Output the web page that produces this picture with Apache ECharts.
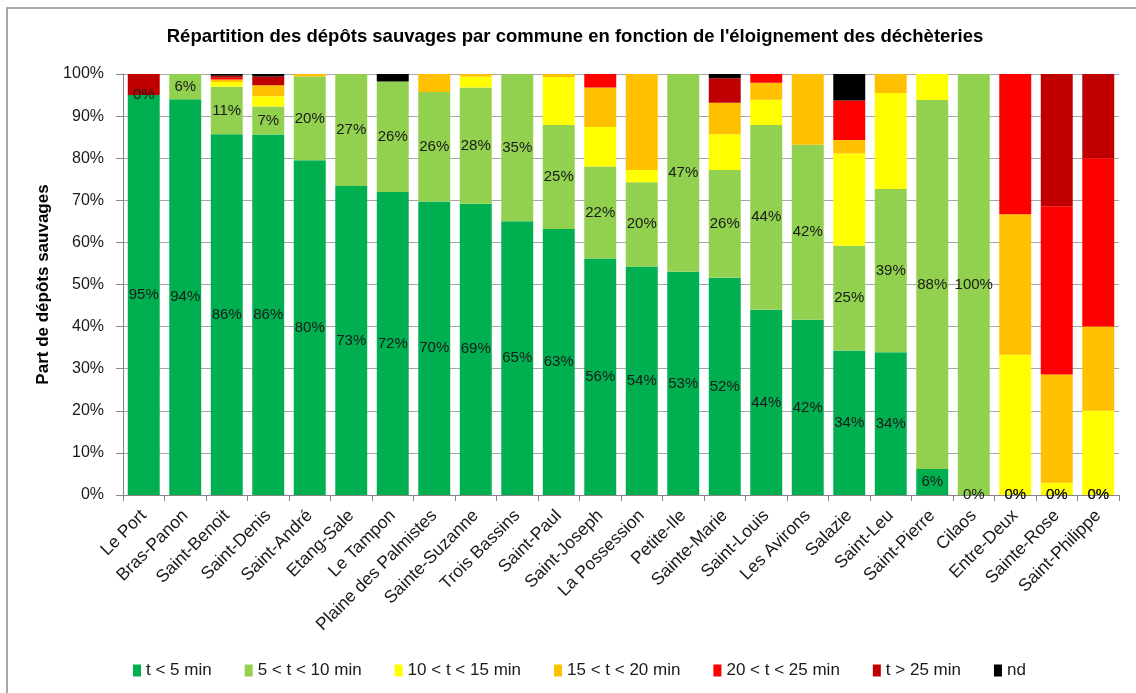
<!DOCTYPE html>
<html>
<head>
<meta charset="utf-8">
<script src="https://cdn.jsdelivr.net/npm/echarts@6/dist/echarts.min.js"></script>
<style>
  html, body { margin: 0; padding: 0; background: #ffffff; }
  #chart { width: 1136px; height: 693px; }
</style>
</head>
<body>
<div id="chart"></div>
<script>
// Communes, ordered by share of dumps within 5 minutes of a recycling centre
const communes = ['Le Port', 'Bras-Panon', 'Saint-Benoit', 'Saint-Denis', 'Saint-André', 'Etang-Sale',
  'Le Tampon', 'Plaine des Palmistes', 'Sainte-Suzanne', 'Trois Bassins', 'Saint-Paul', 'Saint-Joseph',
  'La Possession', 'Petite-Ile', 'Sainte-Marie', 'Saint-Louis', 'Les Avirons', 'Salazie', 'Saint-Leu',
  'Saint-Pierre', 'Cilaos', 'Entre-Deux', 'Sainte-Rose', 'Saint-Philippe'];

// Share (%) of illegal dumps per travel-time class
const tLess5   = [95, 94, 85.7, 85.6, 79.5, 73.4, 72, 69.7, 69.2, 65, 63.2, 56.2, 54.3, 53, 51.6, 44.0, 41.6, 34.3, 33.9, 6.2, 0, 0, 0, 0];
const t5to10   = [0, 6, 11.3, 6.7, 19.9, 26.6, 26.2, 26.0, 27.6, 35, 24.7, 21.8, 20.0, 47, 25.6, 43.9, 41.6, 24.9, 38.8, 87.6, 100, 0, 0, 0];
const t10to15  = [0, 0, 1.1, 2.4, 0, 0, 0, 0, 2.6, 0, 11.4, 9.4, 2.9, 0, 8.5, 6.0, 0, 21.9, 22.8, 6.2, 0, 33.3, 2.9, 20];
const t15to20  = [0, 0, 0.6, 2.6, 0.6, 0, 0, 4.3, 0.6, 0, 0.7, 9.4, 22.8, 0, 7.5, 4.0, 16.8, 3.2, 4.5, 0, 0, 33.4, 25.7, 20];
const t20to25  = [0, 0, 0.4, 0, 0, 0, 0, 0, 0, 0, 0, 3.2, 0, 0, 0, 2.1, 0, 9.4, 0, 0, 0, 33.3, 40, 40];
const tMore25  = [5, 0, 0.5, 2.1, 0, 0, 0, 0, 0, 0, 0, 0, 0, 0, 5.8, 0, 0, 0, 0, 0, 0, 0, 31.4, 20];
const notKnown = [0, 0, 0.4, 0.6, 0, 0, 1.8, 0, 0, 0, 0, 0, 0, 0, 1.0, 0, 0, 6.3, 0, 0, 0, 0, 0, 0];

const classNames = ['t < 5 min', '5 < t < 10 min', '10 < t < 15 min', '15 < t < 20 min', '20 < t < 25 min', 't > 25 min', 'nd'];
const classValues = [tLess5, t5to10, t10to15, t15to20, t20to25, tMore25, notKnown];
const classColors = ['#00B050', '#92D050', '#FFFF00', '#FFC000', '#FF0000', '#C00000', '#000000'];
const labelledClasses = 2; // only the two nearest classes carry value labels

const yTicks = { min: 0, max: 100, interval: 10 };

const FONT = '"Liberation Sans", Arial, sans-serif';

const series = classNames.map((name, i) => ({
  name: name,
  type: 'bar',
  stack: 'share',
  barCategoryGap: '23%',
  data: classValues[i],
  itemStyle: { color: classColors[i] },
  label: {
    show: i < labelledClasses,
    position: 'inside',
    formatter: p => Math.round(p.value) + '%',
    color: '#1a1a1a',
    fontFamily: FONT,
    fontSize: 15
  },
  emphasis: { disabled: true }
}));

const chart = echarts.init(document.getElementById('chart'), null, { renderer: 'canvas' });
chart.setOption({
  animation: false,
  backgroundColor: '#ffffff',
  color: classColors,
  graphic: [
    {
      type: 'rect',
      shape: { x: 7, y: 8, width: 1140, height: 700 },
      style: { fill: 'none', stroke: '#8c8c8c', lineWidth: 1.5 },
      silent: true, z: -1
    },
    {
      type: 'text',
      x: 575, y: 37,
      style: {
        text: "Répartition des dépôts sauvages par commune en fonction de l'éloignement des déchèteries",
        fill: '#000000',
        font: 'bold 18.5px ' + FONT,
        textAlign: 'center',
        textVerticalAlign: 'middle'
      },
      silent: true
    }
  ],
  grid: { left: 123, right: 17, top: 74, bottom: 198 },
  legend: {
    data: classNames,
    left: 128,
    top: 657,
    itemWidth: 8,
    itemHeight: 12,
    itemGap: 33,
    icon: 'rect',
    textStyle: { fontFamily: FONT, fontSize: 17, color: '#1a1a1a' },
    selectedMode: false
  },
  xAxis: {
    type: 'category',
    data: communes,
    axisLine: { lineStyle: { color: '#868686' } },
    axisTick: { show: true, length: 6, lineStyle: { color: '#868686' } },
    axisLabel: {
      interval: 0,
      rotate: 45,
      margin: 18,
      fontFamily: FONT,
      fontSize: 17.5,
      color: '#1a1a1a'
    }
  },
  yAxis: {
    type: 'value',
    min: yTicks.min,
    max: yTicks.max,
    interval: yTicks.interval,
    name: 'Part de dépôts sauvages',
    nameLocation: 'middle',
    nameGap: 70,
    nameTextStyle: { fontFamily: FONT, fontSize: 17, fontWeight: 'bold', color: '#000000' },
    axisLine: { show: true, lineStyle: { color: '#868686' } },
    axisTick: { show: true, length: 7, lineStyle: { color: '#868686' } },
    axisLabel: {
      formatter: '{value}%',
      margin: 19,
      fontFamily: FONT,
      fontSize: 16,
      color: '#1a1a1a'
    },
    splitLine: { lineStyle: { color: '#a6a6a6', width: 1 } }
  },
  series: series
});
</script>
</body>
</html>
